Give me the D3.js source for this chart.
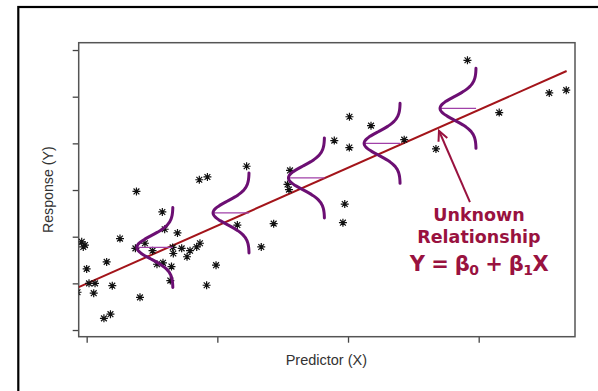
<!DOCTYPE html>
<html>
<head>
<meta charset="utf-8">
<script src="https://cdn.jsdelivr.net/npm/d3@7"></script>
<style>
  html, body { margin: 0; padding: 0; background: #fff; }
  svg { display: block; }
</style>
</head>
<body>
<script>
// ---- data ----
const xTicks = [10, 20, 30, 40];
const yTicks = [0, 10, 20, 30, 40, 50, 60];

const pointsX = [9.62, 9.87, 9.74, 12.55, 13.73, 14.46, 15.04, 15.97, 16.95, 11.53,
  10.0, 10.18, 10.64, 10.54, 11.96, 14.08, 11.32, 11.82, 15.38, 15.84,
  16.49, 16.40, 16.63, 16.58, 17.27, 17.91, 17.68, 18.42, 18.67, 15.79,
  13.81, 18.62, 19.24, 22.24, 19.90, 19.18, 21.53, 23.36, 24.31, 25.56,
  25.37, 25.48, 28.95, 30.11, 30.10, 31.76, 29.75, 29.61, 34.30, 36.73,
  39.14, 41.57, 45.40, 46.70, 9.30];
const pointsY = [18.9, 18.2, 17.8, 19.6, 17.5, 18.6, 17.0, 21.6, 20.8, 14.6,
  13.1, 10.0, 10.0, 7.9, 9.5, 7.0, 2.5, 3.4, 14.1, 14.4,
  13.6, 10.6, 16.4, 17.7, 17.5, 17.0, 15.7, 17.8, 18.6, 25.3,
  29.7, 32.2, 32.8, 35.1, 13.9, 9.6, 22.5, 17.8, 22.8, 34.2,
  31.2, 30.1, 40.6, 45.7, 39.1, 43.8, 27.0, 23.0, 40.8, 38.8,
  57.8, 46.6, 50.8, 51.4, 8.1];

// true regression line endpoints
const lineX = [9.39, 46.73];
const lineY = [9.2, 55.5];

// normal error curves: base x, centre y
const curveX = [16.60, 22.43, 28.20, 33.99, 39.80];
const curveY = [17.7, 25.1, 32.6, 40.0, 47.5];
const curveWidth = 2.76;   // peak height in x units
const curveSigma = 2.5;    // sd in y units
const curveHalf = 8.57;    // half extent in y units

// annotation
const arrowTip = [36.96, 42.7];
const arrowTail = [39.33, 27.4];
const labelX = 40.02;
const labelLines = [["Unknown", 23.4], ["Relationship", 18.6]];
const eqY = 12.6;

// ---- drawing ----
const W = 598, H = 391;
const svg = d3.select("body").append("svg").attr("width", W).attr("height", H);

// outer frame (only top/left visible)
svg.append("rect").attr("x", 18.3).attr("y", 7).attr("width", 700).attr("height", 500)
  .attr("fill", "none").attr("stroke", "#000").attr("stroke-width", 2.2);

const L = 78.7, R = 575, T = 42.7, B = 336.7;
const x = d3.scaleLinear().domain([9.39, 47.37]).range([L, R]);
const y = d3.scaleLinear().domain([-1.43, 61.57]).range([B, T]);

svg.append("defs").append("clipPath").attr("id", "clip")
  .append("rect").attr("x", L).attr("y", T).attr("width", R - L).attr("height", B - T);

// axes
const ax = svg.append("g").attr("transform", `translate(0,${B})`)
  .call(d3.axisBottom(x).tickValues(xTicks).tickSize(6).tickFormat(""));
const ay = svg.append("g").attr("transform", `translate(${L},0)`)
  .call(d3.axisLeft(y).tickValues(yTicks).tickSize(6).tickFormat(""));
[ax, ay].forEach(g => {
  g.select(".domain").remove();
  g.selectAll(".tick line").attr("stroke", "#444").attr("stroke-width", 1.3);
});
svg.append("rect").attr("x", L).attr("y", T).attr("width", R - L).attr("height", B - T)
  .attr("fill", "none").attr("stroke", "#555").attr("stroke-width", 1.5);

// axis titles
svg.append("text").attr("x", (L + R) / 2 - 0.5).attr("y", 365)
  .attr("text-anchor", "middle").attr("font-family", "Liberation Sans, Arial, sans-serif")
  .attr("font-size", 14.5).attr("fill", "#333").text("Predictor (X)");
svg.append("text").attr("transform", `translate(52.5,${(T + B) / 2}) rotate(-90)`)
  .attr("text-anchor", "middle").attr("font-family", "Liberation Sans, Arial, sans-serif")
  .attr("font-size", 14.2).attr("fill", "#333").text("Response (Y)");

const plot = svg.append("g").attr("clip-path", "url(#clip)");

// regression line
plot.append("line")
  .attr("x1", x(lineX[0])).attr("y1", y(lineY[0]))
  .attr("x2", x(lineX[1])).attr("y2", y(lineY[1]))
  .attr("stroke", "#a3141a").attr("stroke-width", 2);

// points (R pch=8 asterisk)
const star = "M-4,0L4,0M0,-4L0,4M-2.9,-2.9L2.9,2.9M-2.9,2.9L2.9,-2.9";
plot.selectAll("path.pt").data(pointsX.map((v, i) => [v, pointsY[i]]))
  .enter().append("path").attr("class", "pt")
  .attr("transform", d => `translate(${x(d[0])},${y(d[1])})`)
  .attr("d", star).attr("stroke", "#111").attr("stroke-width", 1.2).attr("fill", "none");

// error curves
const curveLine = d3.line().x(d => x(d[0])).y(d => y(d[1])).curve(d3.curveBasis);
curveX.forEach((bx, i) => {
  const cy = curveY[i];
  const pts = d3.range(-curveHalf, curveHalf + 0.001, curveHalf / 40).map(t =>
    [bx - curveWidth * Math.exp(-(t * t) / (2 * curveSigma * curveSigma)), cy + t]);
  svg.append("line")
    .attr("x1", x(bx - curveWidth)).attr("x2", x(bx))
    .attr("y1", y(cy)).attr("y2", y(cy))
    .attr("stroke", "#a040a8").attr("stroke-width", 1.2);
  svg.append("path").attr("d", curveLine(pts))
    .attr("fill", "none").attr("stroke", "#6c0f73").attr("stroke-width", 3)
    .attr("stroke-linecap", "round");
});

// annotation arrow
const red = "#99123f";
const tx = x(arrowTip[0]), ty = y(arrowTip[1]);
const sx = x(arrowTail[0]), sy = y(arrowTail[1]);
svg.append("line").attr("x1", sx).attr("y1", sy).attr("x2", tx).attr("y2", ty)
  .attr("stroke", red).attr("stroke-width", 2);
const ang = Math.atan2(sy - ty, sx - tx), hl = 11, ha = 0.45;
svg.append("path")
  .attr("d", `M${tx + hl * Math.cos(ang - ha)},${ty + hl * Math.sin(ang - ha)}L${tx},${ty}L${tx + hl * Math.cos(ang + ha)},${ty + hl * Math.sin(ang + ha)}`)
  .attr("fill", "none").attr("stroke", red).attr("stroke-width", 2);

// annotation text
labelLines.forEach(([t, yy]) => {
  svg.append("text").attr("x", x(labelX)).attr("y", y(yy))
    .attr("text-anchor", "middle").attr("font-family", "DejaVu Sans, Verdana, sans-serif")
    .attr("font-weight", "bold").attr("font-size", 17.5).attr("fill", red).text(t);
});
const eq = svg.append("text").attr("x", x(labelX)).attr("y", y(eqY))
  .attr("text-anchor", "middle").attr("font-family", "DejaVu Sans, Verdana, sans-serif")
  .attr("font-weight", "bold").attr("font-size", 21).attr("letter-spacing", -0.6).attr("fill", red);
eq.append("tspan").text("Y = β");
eq.append("tspan").attr("dy", 4).attr("font-size", 14).text("0");
eq.append("tspan").attr("dy", -4).text(" + β");
eq.append("tspan").attr("dy", 4).attr("font-size", 14).text("1");
eq.append("tspan").attr("dy", -4).text("X");
</script>
</body>
</html>
